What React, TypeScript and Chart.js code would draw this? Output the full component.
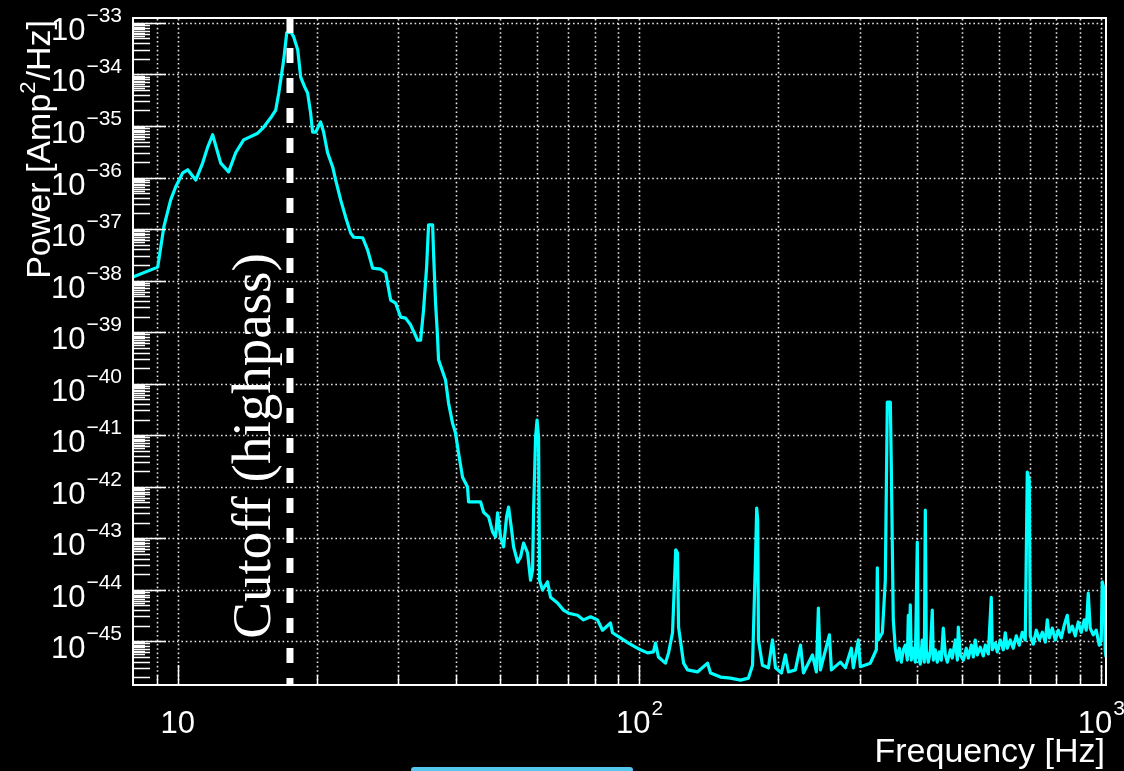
import React, { useEffect, useRef } from 'react';
import { Chart, registerables } from 'chart.js';

Chart.register(...registerables);

// ---- data ----
const freqHz = [
  8.0, 9.05, 9.33, 9.65, 9.90, 10.25, 10.51, 10.94, 11.32, 11.61,
  11.90, 12.39, 12.89, 13.35, 13.89, 14.90, 15.36, 15.90, 16.30, 16.55,
  16.96, 17.22, 17.57, 17.83, 18.19, 18.46, 18.83, 19.11, 19.40, 19.59,
  19.89, 20.39, 20.70, 21.11, 21.66, 21.98, 22.54, 23.10, 23.69, 24.05,
  25.15, 25.78, 26.43, 27.51, 28.20, 28.91, 29.64, 30.39, 31.15, 31.93,
  33.07, 33.57, 34.07, 34.59, 34.93, 35.64, 35.81, 36.17, 36.53, 36.71,
  38.01, 38.59, 39.37, 39.96, 40.56, 41.38, 42.42, 42.64, 45.28, 45.96,
  47.12, 48.07, 48.79, 49.28, 50.02, 50.78, 51.54, 52.06, 52.84, 53.37,
  54.45, 55.26, 56.10, 57.23, 58.09, 58.68, 58.97, 59.56, 60.0, 60.45,
  60.75, 61.66, 63.22, 64.17, 66.45, 68.47, 70.20, 73.42, 75.65, 78.34,
  81.11, 83.16, 86.54, 87.41, 90.94, 94.67, 98.02, 100.5, 104.1, 107.2,
  108.3, 109.9, 113.8, 115.6, 117.9, 119.8, 120.9, 121.5, 124.6, 127.1,
  133.5, 140.4, 142.5, 149.8, 157.4, 165.5, 172.2, 175.7, 178.3, 179.4,
  180.3, 181.0, 184.6, 190.2, 194.1, 197.0, 203.0, 207.0, 210.2, 217.6,
  223.2, 226.5, 236.9, 241.6, 244.0, 246.5, 257.8, 260.4, 272.3, 279.2,
  287.6, 290.5, 297.8, 300.8, 316.2, 325.8, 327.4, 329.0, 335.7, 340.7,
  344.1, 349.3, 351.0,
  354.5, 358.1, 361.7, 365.3, 369.0, 372.8, 376.4, 380.2, 382.1, 384.0,
  385.9, 387.8, 391.7, 395.7, 399.6, 401.6, 405.6, 409.7, 413.8, 415.9,
  418.0, 422.1, 426.4, 430.6, 432.8, 437.1, 441.5, 445.9, 450.4, 454.9,
  459.5, 464.2, 471.2, 475.8, 483.0, 488.0, 490.3, 495.2, 502.8, 510.3,
  515.4, 523.2, 528.4, 533.6, 539.0, 547.1, 555.4, 561.0, 569.4, 577.9,
  580.8, 589.6, 595.5, 604.4, 613.6, 619.7, 625.9, 635.3, 644.9, 654.6,
  664.5, 674.5, 684.6, 691.5, 698.4, 701.9, 712.7, 723.4, 734.4, 745.5,
  756.6, 764.1, 771.9, 783.5, 795.3, 807.3, 819.4, 831.7, 844.2, 852.6,
  865.4, 878.5, 891.7, 905.1, 918.7, 927.9, 937.2, 946.5, 960.9, 975.4,
  990.1, 1000, 1005, 1015, 1020, 1024,
];

// log10 of power [Amp^2/Hz]
const log10Power = [
  -37.93, -37.74, -36.96, -36.44, -36.18, -35.91, -35.85, -36.05, -35.72, -35.41,
  -35.17, -35.72, -35.89, -35.52, -35.27, -35.14, -35.02, -34.84, -34.69, -34.36,
  -33.72, -33.19, -33.17, -33.27, -33.52, -34.05, -34.24, -34.36, -34.75, -35.12,
  -35.12, -34.92, -35.12, -35.52, -35.80, -36.05, -36.44, -36.77, -37.08, -37.16,
  -37.17, -37.41, -37.76, -37.78, -37.85, -38.38, -38.44, -38.71, -38.73, -38.86,
  -39.16, -39.16, -38.57, -37.74, -36.92, -36.92, -37.47, -38.44, -39.10, -39.54,
  -39.93, -40.38, -40.77, -40.96, -41.35, -41.82, -42.01, -42.30, -42.30, -42.50,
  -42.59, -42.88, -42.98, -42.51, -42.98, -43.17, -42.59, -42.40, -42.84, -43.17,
  -43.47, -43.37, -43.10, -43.29, -43.82, -43.62, -42.46, -41.04, -40.71, -41.04,
  -43.82, -44.01, -43.85, -44.15, -44.26, -44.40, -44.46, -44.50, -44.59, -44.53,
  -44.59, -44.79, -44.65, -44.84, -44.94, -45.04, -45.12, -45.17, -45.23, -45.21,
  -45.04, -45.31, -45.43, -45.23, -44.84, -43.23, -43.29, -44.73, -45.43, -45.56,
  -45.60, -45.43, -45.62, -45.70, -45.72, -45.76, -45.72, -45.47, -43.43, -42.42,
  -42.65, -44.98, -45.47, -45.52, -44.98, -45.52, -45.62, -45.27, -45.60, -45.56,
  -45.08, -45.62, -45.27, -45.60, -44.36, -45.56, -44.88, -45.56, -45.41, -45.52,
  -45.14, -45.52, -44.98, -45.50, -45.43, -45.17, -43.58, -44.98, -44.84, -43.82,
  -40.36, -40.36, -41.58,
  -44.59, -45.14, -45.37, -45.14, -45.41, -45.17, -45.08, -45.37, -44.50, -45.27,
  -44.30, -45.37, -45.14, -45.41, -43.08, -45.27, -45.45, -44.98, -45.41, -42.46,
  -45.17, -45.41, -45.21, -44.40, -45.37, -45.17, -45.41, -45.21, -45.37, -44.75,
  -45.27, -45.41, -45.17, -45.33, -44.98, -45.37, -44.73, -45.27, -45.37, -45.14,
  -45.33, -45.08, -45.31, -44.98, -45.27, -45.12, -45.29, -45.08, -45.25, -44.15,
  -45.17, -45.04, -45.21, -44.98, -45.17, -44.84, -45.14, -44.98, -45.14, -44.90,
  -45.08, -44.83, -44.98, -41.72, -41.87, -44.90, -45.06, -44.79, -44.98, -44.83,
  -45.02, -44.59, -44.94, -44.75, -44.98, -44.79, -44.94, -44.69, -44.50, -44.83,
  -44.71, -44.90, -44.63, -44.83, -44.59, -44.79, -44.07, -44.75, -44.88, -44.79,
  -45.08, -44.98, -43.85, -44.01, -45.17, -45.31,
];

const xMin = 8;
const xMax = 1024;
const yMinExp = -45.854;
const yMaxExp = -32.903;
const yDecadeExps = [-45, -44, -43, -42, -41, -40, -39, -38, -37, -36, -35, -34, -33];
const xDecadeExps = [1, 2, 3];
const cutoffHz = 17.5;
const xTitle = 'Frequency [Hz]';
const yTitleMain = 'Power [Amp';
const yTitleSup = '2';
const yTitleEnd = '/Hz]';
const cutoffLabel = 'Cutoff (highpass)';

const SANS = '"Liberation Sans", Arial, Helvetica, sans-serif';
const SERIF = '"Liberation Serif", "Times New Roman", serif';

const rootStylePlugin = {
  id: 'rootStyle',
  beforeDraw(chart: any) {
    const ctx = chart.ctx;
    ctx.save();
    ctx.fillStyle = '#000000';
    ctx.fillRect(0, 0, chart.width, chart.height);
    ctx.restore();
  },
  beforeDatasetsDraw(chart: any) {
    const ctx = chart.ctx;
    const { left, right, top, bottom } = chart.chartArea;
    const xs = chart.scales.x;
    const ys = chart.scales.y;
    ctx.save();
    ctx.strokeStyle = 'rgba(255,255,255,0.9)';
    ctx.lineWidth = 1.6;
    ctx.setLineDash([1.6, 2.8]);
    const gx: number[] = [];
    for (let d = 0; d <= 3; d++) {
      for (let k = 1; k <= 9; k++) {
        const v = k * Math.pow(10, d);
        if (v > xMin && v <= xMax) gx.push(v);
      }
    }
    gx.forEach((v) => {
      const px = Math.round(xs.getPixelForValue(v)) + 0.5;
      ctx.beginPath();
      ctx.moveTo(px, bottom);
      ctx.lineTo(px, top);
      ctx.stroke();
    });
    yDecadeExps.forEach((e) => {
      const py = Math.round(ys.getPixelForValue(Math.pow(10, e))) + 0.5;
      ctx.beginPath();
      ctx.moveTo(left, py);
      ctx.lineTo(right, py);
      ctx.stroke();
    });
    ctx.restore();
  },
  afterDatasetsDraw(chart: any) {
    const ctx = chart.ctx;
    const { left, right, top, bottom } = chart.chartArea;
    const xs = chart.scales.x;
    const ys = chart.scales.y;
    ctx.save();
    ctx.setLineDash([]);
    ctx.strokeStyle = '#ffffff';

    // x ticks
    ctx.lineWidth = 1.5;
    for (let d = 0; d <= 3; d++) {
      for (let k = 1; k <= 9; k++) {
        const v = k * Math.pow(10, d);
        if (v <= xMin || v > xMax) continue;
        const px = Math.round(xs.getPixelForValue(v)) + 0.5;
        const len = k === 1 ? 20 : 10;
        ctx.beginPath();
        ctx.moveTo(px, bottom);
        ctx.lineTo(px, bottom - len);
        ctx.stroke();
      }
    }
    // y ticks
    for (let e = -46; e <= -33; e++) {
      const sub = [1, 2, 3, 4, 5, 5.5, 6, 6.5, 7, 7.5, 8, 8.5, 9, 9.5];
      sub.forEach((k) => {
        const v = k * Math.pow(10, e);
        const lv = Math.log10(v);
        if (lv < yMinExp || lv > yMaxExp) return;
        const py = Math.round(ys.getPixelForValue(v)) + 0.5;
        const len = k === 1 ? 33 : Number.isInteger(k) ? 17 : 12;
        ctx.beginPath();
        ctx.moveTo(left, py);
        ctx.lineTo(left + len, py);
        ctx.stroke();
      });
    }

    // frame
    ctx.lineWidth = 2;
    ctx.strokeRect(left, top, right - left, bottom - top);

    // cutoff dashed line
    const cx = xs.getPixelForValue(cutoffHz);
    ctx.lineWidth = 7;
    ctx.setLineDash([15, 15]);
    ctx.beginPath();
    ctx.moveTo(cx, top);
    ctx.lineTo(cx, bottom);
    ctx.stroke();
    ctx.setLineDash([]);

    ctx.fillStyle = '#ffffff';
    ctx.textBaseline = 'alphabetic';

    // y tick labels 10^e
    yDecadeExps.forEach((e) => {
      const py = ys.getPixelForValue(Math.pow(10, e));
      const expTxt = '\u2212' + String(-e);
      ctx.font = `21px ${SANS}`;
      const we = ctx.measureText(expTxt).width;
      ctx.textAlign = 'left';
      const rightEdge = 122;
      ctx.fillText(expTxt, rightEdge - we, py - 1);
      ctx.font = `31px ${SANS}`;
      ctx.textAlign = 'right';
      ctx.fillText('10', rightEdge - we - 1, py + 17);
    });

    // x tick labels
    xDecadeExps.forEach((e) => {
      const px = xs.getPixelForValue(Math.pow(10, e));
      ctx.font = `31px ${SANS}`;
      const wb = ctx.measureText('10').width;
      let we = 0;
      const expTxt = e === 1 ? '' : String(e);
      if (expTxt) {
        ctx.font = `21px ${SANS}`;
        we = ctx.measureText(expTxt).width + 1;
      }
      const start = px - (wb + we) / 2;
      ctx.textAlign = 'left';
      ctx.font = `31px ${SANS}`;
      ctx.fillText('10', start, 733);
      if (expTxt) {
        ctx.font = `21px ${SANS}`;
        ctx.fillText(expTxt, start + wb + 1, 715);
      }
    });

    // x title
    ctx.font = `34px ${SANS}`;
    ctx.textAlign = 'right';
    ctx.fillText(xTitle, right - 1, 762);

    // y title (rotated, right-aligned to top)
    ctx.save();
    ctx.translate(50, 20);
    ctx.rotate(-Math.PI / 2);
    ctx.textAlign = 'left';
    ctx.font = `34px ${SANS}`;
    const w1 = ctx.measureText(yTitleMain).width;
    const w3 = ctx.measureText(yTitleEnd).width;
    ctx.font = `22px ${SANS}`;
    const w2 = ctx.measureText(yTitleSup).width + 1;
    const total = w1 + w2 + w3;
    let tx = -total;
    ctx.font = `34px ${SANS}`;
    ctx.fillText(yTitleMain, tx, 0);
    tx += w1;
    ctx.font = `22px ${SANS}`;
    ctx.fillText(yTitleSup, tx, -15);
    tx += w2;
    ctx.font = `34px ${SANS}`;
    ctx.fillText(yTitleEnd, tx, 0);
    ctx.restore();

    // cutoff label
    ctx.save();
    ctx.translate(270, 446);
    ctx.rotate(-Math.PI / 2);
    ctx.textAlign = 'center';
    ctx.font = `55px ${SERIF}`;
    ctx.fillText(cutoffLabel, 0, 0);
    ctx.restore();

    ctx.restore();
  },
};

export default function App() {
  const canvasRef = useRef<HTMLCanvasElement | null>(null);

  useEffect(() => {
    const canvas = canvasRef.current;
    if (!canvas) return;
    const points = freqHz.map((f, i) => ({ x: f, y: Math.pow(10, log10Power[i]) }));
    const chart = new Chart(canvas, {
      type: 'line',
      data: {
        datasets: [
          {
            data: points,
            borderColor: '#00ffff',
            borderWidth: 3.2,
            pointRadius: 0,
            tension: 0,
            fill: false,
            borderJoinStyle: 'round',
          } as any,
        ],
      },
      options: {
        animation: false,
        responsive: false,
        devicePixelRatio: 1,
        layout: { padding: { left: 133, right: 18, top: 18, bottom: 86 } },
        plugins: { legend: { display: false }, tooltip: { enabled: false }, title: { display: false } },
        scales: {
          x: {
            type: 'logarithmic',
            min: xMin,
            max: xMax,
            display: false,
          },
          y: {
            type: 'logarithmic',
            min: Math.pow(10, yMinExp),
            max: Math.pow(10, yMaxExp),
            display: false,
          },
        },
      } as any,
      plugins: [rootStylePlugin],
    });
    return () => chart.destroy();
  }, []);

  return (
    <div
      style={{
        position: 'fixed',
        left: 0,
        top: 0,
        width: 1124,
        height: 771,
        overflow: 'hidden',
        background: '#000',
      }}
    >
      <canvas ref={canvasRef} width={1124} height={771} style={{ display: 'block', width: 1124, height: 771 }} />
      <div
        style={{
          position: 'absolute',
          left: 411,
          top: 767,
          width: 222,
          height: 6,
          borderRadius: 3,
          background: '#55c6ee',
        }}
      />
    </div>
  );
}
